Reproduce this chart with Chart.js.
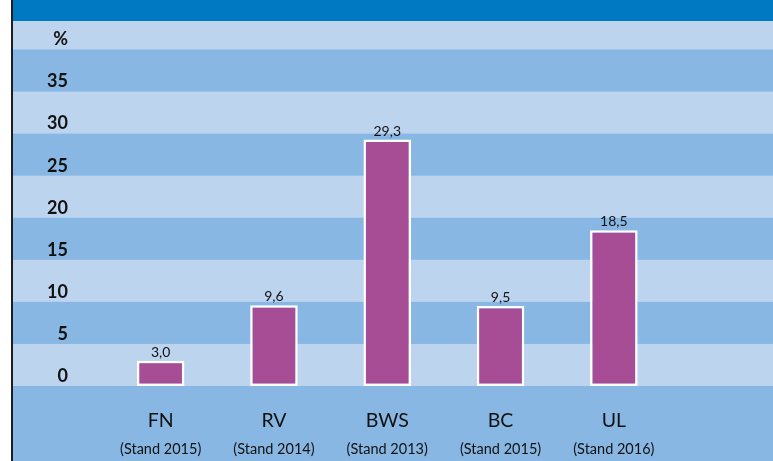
<!DOCTYPE html>
<html>
<head>
<meta charset="utf-8">
<script src="https://cdn.jsdelivr.net/npm/chart.js@4.4.1/dist/chart.umd.min.js"></script>
<style>
  html, body { margin: 0; padding: 0; background: #ffffff; }
  #wrap { position: relative; width: 773px; height: 461px; }
</style>
</head>
<body>
<div id="wrap"><canvas id="c"></canvas></div>
<script>
// ---- data ----
const categories = ["FN", "RV", "BWS", "BC", "UL"];
const subLabels = ["(Stand 2015)", "(Stand 2014)", "(Stand 2013)", "(Stand 2015)", "(Stand 2016)"];
const values = [3.0, 9.6, 29.3, 9.5, 18.5];
const yTickValues = [0, 5, 10, 15, 20, 25, 30, 35, 40];
const yTickLabels = ["0", "5", "10", "15", "20", "25", "30", "35", "%"];

const FONT = "Lato, 'Open Sans', sans-serif";
const LIGHT = "#bdd4ef";
const MEDIUM = "#88b7e3";
const HEADER = "#0079c2";

const fmt = v => v.toFixed(1).replace(".", ",");

const background = {
  id: "background",
  beforeDraw(chart) {
    const { ctx, width, height } = chart;
    const y = chart.scales.y;
    ctx.save();
    ctx.fillStyle = "#ffffff";
    ctx.fillRect(0, 0, width, height);
    ctx.fillStyle = LIGHT;
    ctx.fillRect(13, 21, width - 13, height - 21);
    ctx.fillStyle = MEDIUM;
    const bands = [[35, 40], [25, 30], [15, 20], [5, 10]];
    bands.forEach(([a, b]) => {
      const top = y.getPixelForValue(b), bot = y.getPixelForValue(a);
      ctx.fillRect(13, top, width - 13, bot - top);
    });
    const zero = y.getPixelForValue(0);
    ctx.fillRect(13, zero, width - 13, height - zero);
    ctx.fillStyle = HEADER;
    ctx.fillRect(13, 0, width - 13, 21);
    ctx.fillStyle = "#1e1e1e";
    ctx.fillRect(11, 0, 2, height);
    ctx.restore();
  }
};

const labelsPlugin = {
  id: "labelsPlugin",
  afterDatasetsDraw(chart) {
    const { ctx } = chart;
    const xs = chart.scales.x;
    ctx.save();
    ctx.fillStyle = "#111111";
    ctx.textAlign = "center";
    const meta = chart.getDatasetMeta(0);
    ctx.font = "14px " + FONT;
    ctx.textBaseline = "alphabetic";
    meta.data.forEach((bar, i) => {
      ctx.fillText(fmt(values[i]), bar.x, bar.y - 4);
    });
    ctx.textBaseline = "middle";
    categories.forEach((c, i) => {
      const x = xs.getPixelForValue(i);
      ctx.font = "19.5px " + FONT;
      ctx.fillText(c, x, 421);
      ctx.font = "14.5px " + FONT;
      ctx.fillText(subLabels[i], x, 449);
    });
    ctx.restore();
  }
};

new Chart(document.getElementById("c"), {
  type: "bar",
  data: {
    labels: categories,
    datasets: [{
      data: values,
      backgroundColor: "#a64d96",
      borderColor: "#ffffff",
      borderWidth: 2.5,
      borderSkipped: false,
      barPercentage: 0.42,
      categoryPercentage: 1.0
    }]
  },
  options: {
    responsive: true,
    maintainAspectRatio: false,
    animation: false,
    devicePixelRatio: 1,
    layout: { padding: { left: 14, right: 102.5, top: 49.5, bottom: 75 } },
    plugins: { legend: { display: false }, tooltip: { enabled: false }, title: { display: false } },
    scales: {
      x: {
        display: false,
        grid: { display: false }
      },
      y: {
        min: 0,
        max: 40,
        afterFit: s => { s.width = 90; },
        afterBuildTicks: s => { s.ticks = yTickValues.map(v => ({ value: v })); },
        grid: { display: false, drawTicks: false },
        border: { display: false },
        ticks: {
          padding: 36,
          labelOffset: -10,
          color: "#111111",
          font: { family: FONT, size: 18, weight: "bold" },
          callback: (v) => {
            const i = yTickValues.indexOf(v);
            return i >= 0 ? yTickLabels[i] : "";
          }
        }
      }
    }
  },
  plugins: [background, labelsPlugin]
});
</script>
</body>
</html>
